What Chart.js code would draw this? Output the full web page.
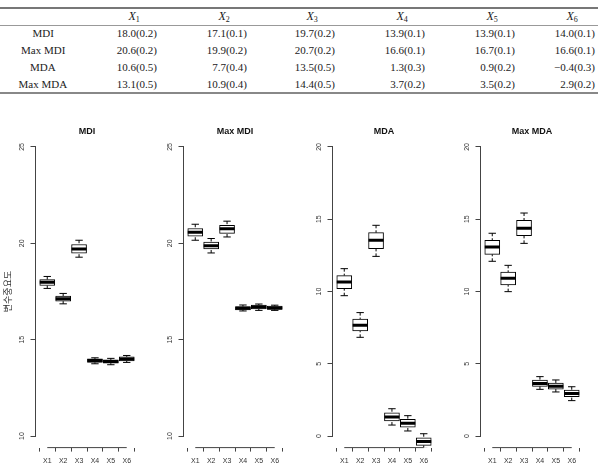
<!DOCTYPE html>
<html>
<head>
<meta charset="utf-8">
<script src="https://cdn.jsdelivr.net/npm/chart.js@4.4.1/dist/chart.umd.min.js"></script>
<style>
  body { margin: 0; background: #fff; width: 598px; height: 468px; position: relative; overflow: hidden; }
  .t { position: absolute; font-family: "Liberation Serif", serif; font-size: 11px; line-height: 11px; color: #222; white-space: nowrap; }
  .h { font-size: 12px; line-height: 12px; }
  .h sub { font-size: 8px; vertical-align: -2px; font-style: normal; }
  .rule { position: absolute; left: 0; width: 598px; }
  .panel { position: absolute; top: 100px; }
</style>
</head>
<body>

<div class="rule" style="top:7px;height:2px;background:#777"></div>
<div class="rule" style="top:25px;height:1px;background:#999"></div>
<div class="rule" style="top:92px;height:2px;background:#888"></div>
<div id="table"></div>

<canvas id="p1" class="panel" width="149" height="368" style="left:0px"></canvas>
<canvas id="p2" class="panel" width="149" height="368" style="left:148px"></canvas>
<canvas id="p3" class="panel" width="149" height="368" style="left:297px"></canvas>
<canvas id="p4" class="panel" width="149" height="368" style="left:445px"></canvas>

<script>
// 표 값 (평균, 표준오차)
const varNames = ['X1', 'X2', 'X3', 'X4', 'X5', 'X6'];
const methods = ['MDI', 'Max MDI', 'MDA', 'Max MDA'];
const meanMDI = [18.0, 17.1, 19.7, 13.9, 13.9, 14.0];
const seMDI = [0.2, 0.1, 0.2, 0.1, 0.1, 0.1];
const meanMaxMDI = [20.6, 19.9, 20.7, 16.6, 16.7, 16.6];
const seMaxMDI = [0.2, 0.2, 0.2, 0.1, 0.1, 0.1];
const meanMDA = [10.6, 7.7, 13.5, 1.3, 0.9, -0.4];
const seMDA = [0.5, 0.4, 0.5, 0.3, 0.2, 0.3];
const meanMaxMDA = [13.1, 10.9, 14.4, 3.7, 3.5, 2.9];
const seMaxMDA = [0.5, 0.4, 0.5, 0.2, 0.2, 0.2];

// 박스플롯 값 (min, Q1, median, Q3, max)
const mdiMin = [17.66, 16.86, 19.28, 13.75, 13.70, 13.82];
const mdiQ1  = [17.81, 17.00, 19.49, 13.82, 13.78, 13.90];
const mdiMed = [17.98, 17.12, 19.71, 13.92, 13.87, 14.00];
const mdiQ3  = [18.12, 17.26, 19.94, 14.00, 13.95, 14.11];
const mdiMax = [18.28, 17.40, 20.16, 14.06, 14.03, 14.18];

const maxMdiMin = [20.16, 19.50, 20.33, 16.49, 16.52, 16.52];
const maxMdiQ1  = [20.37, 19.71, 20.52, 16.55, 16.60, 16.57];
const maxMdiMed = [20.58, 19.88, 20.75, 16.63, 16.70, 16.65];
const maxMdiQ3  = [20.77, 20.06, 20.94, 16.72, 16.80, 16.74];
const maxMdiMax = [20.99, 20.25, 21.15, 16.80, 16.85, 16.79];

const mdaMin = [9.71, 6.83, 12.43, 0.76, 0.35, -0.85];
const mdaQ1  = [10.20, 7.27, 12.96, 1.04, 0.62, -0.65];
const mdaMed = [10.66, 7.66, 13.54, 1.31, 0.88, -0.37];
const mdaQ3  = [11.10, 8.10, 14.07, 1.61, 1.15, -0.12];
const mdaMax = [11.58, 8.54, 14.58, 1.89, 1.41, 0.16];

const maxMdaMin = [12.09, 9.99, 13.33, 3.23, 3.05, 2.45];
const maxMdaQ1  = [12.57, 10.45, 13.86, 3.44, 3.25, 2.72];
const maxMdaMed = [13.08, 10.91, 14.37, 3.64, 3.44, 2.95];
const maxMdaQ3  = [13.54, 11.35, 14.93, 3.88, 3.67, 3.18];
const maxMdaMax = [14.03, 11.81, 15.43, 4.11, 3.88, 3.41];

const ticksMDI = [10, 15, 20, 25];
const ticksMDA = [0, 5, 10, 15, 20];

// 표 그리기
const tableEl = document.getElementById('table');
const colRight = [157, 247, 335, 425, 515, 595];
const rowY = [34, 51, 68, 85];
function fmt(v) {
  return (v < 0 ? '\u2212' + Math.abs(v).toFixed(1) : v.toFixed(1));
}
function addSpan(html, cls, style) {
  const s = document.createElement('span');
  s.className = cls;
  s.innerHTML = html;
  s.style.cssText = style;
  tableEl.appendChild(s);
  return s;
}
varNames.forEach((name, j) => {
  const s = addSpan('<i>X</i><sub>' + name.slice(1) + '</sub>', 't h', 'top:10px;');
  s.style.left = (colRight[j] - 23 - s.offsetWidth / 2) + 'px';
});
const means = [meanMDI, meanMaxMDI, meanMDA, meanMaxMDA];
const ses = [seMDI, seMaxMDI, seMDA, seMaxMDA];
methods.forEach((m, i) => {
  const s = addSpan(m, 't', 'top:' + (rowY[i] - 6) + 'px;');
  s.style.left = (43 - s.offsetWidth / 2) + 'px';
  varNames.forEach((n, j) => {
    addSpan(fmt(means[i][j]) + '(' + ses[i][j].toFixed(1) + ')', 't',
      'top:' + (rowY[i] - 6) + 'px;right:' + (598 - colRight[j]) + 'px;');
  });
});

// R 스타일 축, 제목 그리는 플러그인
const rAxes = {
  id: 'rAxes',
  afterDraw(chart, args, opts) {
    const ctx = chart.ctx;
    const x = chart.scales.x, y = chart.scales.y;
    const area = chart.chartArea;
    ctx.save();
    ctx.strokeStyle = '#444';
    ctx.lineWidth = 1;
    ctx.beginPath();
    const yt = opts.yTicks;
    ctx.moveTo(area.left, y.getPixelForValue(yt[0]));
    ctx.lineTo(area.left, y.getPixelForValue(yt[yt.length - 1]));
    ctx.moveTo(x.getPixelForValue(1), area.bottom);
    ctx.lineTo(x.getPixelForValue(6), area.bottom);
    ctx.stroke();

    ctx.fillStyle = '#333';
    ctx.font = '7px "Liberation Sans", Arial, sans-serif';
    ctx.textAlign = 'center';
    ctx.textBaseline = 'middle';
    yt.forEach(v => {
      ctx.save();
      ctx.translate(area.left - 13, y.getPixelForValue(v));
      ctx.rotate(-Math.PI / 2);
      ctx.fillText(String(v), 0, 0);
      ctx.restore();
    });

    ctx.fillStyle = '#111';
    ctx.font = 'bold 9px "Liberation Sans", Arial, sans-serif';
    ctx.fillText(opts.title, (area.left + area.right) / 2, 31.5);

    if (opts.yTitle) {
      ctx.save();
      ctx.fillStyle = '#333';
      ctx.font = '9px "Noto Sans CJK KR", sans-serif';
      ctx.translate(8, (area.top + area.bottom) / 2);
      ctx.rotate(-Math.PI / 2);
      ctx.fillText(opts.yTitle, 0, 0);
      ctx.restore();
    }
    ctx.restore();
  }
};

function makePanel(id, title, yTitle, yMin, yMax, yTicks, mins, q1s, meds, q3s, maxs) {
  const xs = varNames.map((n, i) => i + 1);
  const datasets = [];
  xs.forEach((x, i) => {
    datasets.push({
      type: 'line', data: [{ x: x, y: mins[i] }, { x: x, y: q1s[i] }],
      borderColor: '#000', borderWidth: 1, borderDash: [3, 2], pointRadius: 0, order: 5
    });
    datasets.push({
      type: 'line', data: [{ x: x, y: maxs[i] }, { x: x, y: q3s[i] }],
      borderColor: '#000', borderWidth: 1, borderDash: [3, 2], pointRadius: 0, order: 5
    });
  });
  datasets.push({
    type: 'bar',
    data: xs.map((x, i) => ({ x: x, y: [q1s[i], q3s[i]] })),
    backgroundColor: '#fff', borderColor: '#000', borderWidth: 1,
    borderSkipped: false, barThickness: 15, grouped: false, order: 3
  });
  datasets.push({
    type: 'line', showLine: false,
    data: xs.map((x, i) => ({ x: x, y: meds[i] })),
    pointStyle: 'line', pointRadius: 7.5, pointBorderWidth: 3,
    pointBorderColor: '#000', order: 1
  });
  datasets.push({
    type: 'line', showLine: false,
    data: xs.map((x, i) => ({ x: x, y: mins[i] })).concat(xs.map((x, i) => ({ x: x, y: maxs[i] }))),
    pointStyle: 'line', pointRadius: 3.7, pointBorderWidth: 1,
    pointBorderColor: '#000', order: 2
  });

  new Chart(document.getElementById(id), {
    type: 'bar',
    data: { datasets: datasets },
    plugins: [rAxes],
    options: {
      responsive: false,
      animation: false,
      events: [],
      layout: { padding: { left: 29.5, right: 8, top: 35.4, bottom: 0 } },
      plugins: {
        legend: { display: false },
        tooltip: { enabled: false },
        rAxes: { title: title, yTitle: yTitle, yTicks: yTicks }
      },
      scales: {
        x: {
          type: 'linear', min: 0.26, max: 6.74, offset: false,
          afterBuildTicks: s => { s.ticks = xs.map(v => ({ value: v })); },
          afterFit: s => { s.height = 20.4; },
          ticks: {
            callback: v => varNames[v - 1],
            font: { family: '"Liberation Sans", Arial, sans-serif', size: 7 },
            color: '#333', padding: 5, maxRotation: 0, autoSkip: false
          },
          grid: { drawOnChartArea: false, drawTicks: true, tickLength: 4, color: '#444' },
          border: { display: false }
        },
        y: {
          type: 'linear', min: yMin, max: yMax,
          afterBuildTicks: s => { s.ticks = yTicks.map(v => ({ value: v })); },
          afterFit: s => { s.width = 6; },
          ticks: { display: false },
          grid: { drawOnChartArea: false, drawTicks: true, tickLength: 5, color: '#444' },
          border: { display: false }
        }
      }
    }
  });
}

makePanel('p1', 'MDI', '변수중요도', 9.4, 25.6, ticksMDI, mdiMin, mdiQ1, mdiMed, mdiQ3, mdiMax);
makePanel('p2', 'Max MDI', null, 9.4, 25.6, ticksMDI, maxMdiMin, maxMdiQ1, maxMdiMed, maxMdiQ3, maxMdiMax);
makePanel('p3', 'MDA', null, -0.8, 20.8, ticksMDA, mdaMin, mdaQ1, mdaMed, mdaQ3, mdaMax);
makePanel('p4', 'Max MDA', null, -0.8, 20.8, ticksMDA, maxMdaMin, maxMdaQ1, maxMdaMed, maxMdaQ3, maxMdaMax);
</script>
</body>
</html>
